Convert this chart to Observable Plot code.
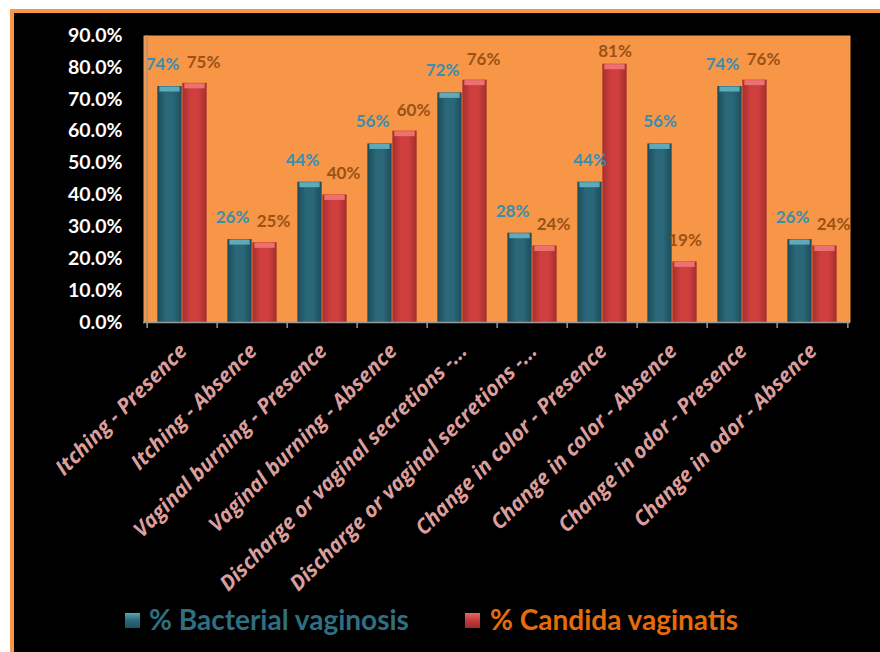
<!DOCTYPE html>
<html>
<head>
<meta charset="utf-8">
<script src="https://cdn.jsdelivr.net/npm/d3@7"></script>
<script src="https://cdn.jsdelivr.net/npm/@observablehq/plot@0.6"></script>
<style>
  html, body { margin: 0; padding: 0; background: #000000; width: 880px; height: 652px; overflow: hidden; }
  #whiteTop { position: absolute; left: 0; top: 0; width: 1000px; height: 9px; background: #ffffff; }
  #whiteLeft { position: absolute; left: 0; top: 0; width: 10px; height: 1000px; background: #ffffff; }
  #edgeTop { position: absolute; left: 10px; top: 9px; width: 990px; height: 4px; background: #F79646; }
  #edgeLeft { position: absolute; left: 10px; top: 9px; width: 4px; height: 990px; background: #F79646; }
  #chart { position: absolute; left: 0; top: 0; }
  #legend { position: absolute; top: 603px; left: 0; width: 880px; height: 32px; font-family: Lato, "Open Sans", sans-serif; font-weight: 700; font-size: 28px; }
  .sw { position: absolute; width: 15px; height: 15px; top: 10px; }
  .lt { position: absolute; top: 0; white-space: nowrap; line-height: 32px; }
</style>
</head>
<body>
<div id="whiteTop"></div>
<div id="whiteLeft"></div>
<div id="edgeTop"></div>
<div id="edgeLeft"></div>
<div id="chart"></div>
<div id="legend">
  <div class="sw" style="left:125px;background:linear-gradient(180deg,#5aa6b8 0%,#2b6c7d 45%,#1e5160 100%);"></div>
  <div class="lt" style="left:149px;color:#2f6f82;">% Bacterial vaginosis</div>
  <div class="sw" style="left:465px;background:linear-gradient(180deg,#e86a68 0%,#c83b3b 45%,#9c2b2b 100%);"></div>
  <div class="lt" style="left:490px;color:#E46C0A;">% Candida vaginatis</div>
</div>
<script>
const categories = [
  "Itching - Presence",
  "Itching - Absence",
  "Vaginal burning - Presence",
  "Vaginal burning - Absence",
  "Discharge or vaginal secretions - Presence",
  "Discharge or vaginal secretions - Absence",
  "Change in color - Presence",
  "Change in color - Absence",
  "Change in odor - Presence",
  "Change in odor - Absence"
];
const tickLabels = [
  "Itching - Presence",
  "Itching - Absence",
  "Vaginal burning - Presence",
  "Vaginal burning - Absence",
  "Discharge or vaginal secretions -...",
  "Discharge or vaginal secretions -...",
  "Change in color - Presence",
  "Change in color - Absence",
  "Change in odor - Presence",
  "Change in odor - Absence"
];
const bacterialVaginosis = [0.74, 0.26, 0.44, 0.56, 0.72, 0.28, 0.44, 0.56, 0.74, 0.26];
const candidaVaginatis   = [0.75, 0.25, 0.40, 0.60, 0.76, 0.24, 0.81, 0.19, 0.76, 0.24];
const yTicks = [0, 0.1, 0.2, 0.3, 0.4, 0.5, 0.6, 0.7, 0.8, 0.9];

const data = categories.map((c, i) => ({cat: c, bv: bacterialVaginosis[i], cv: candidaVaginatis[i]}));

const W = 880, H = 570, mL = 143, mR = 30, mT = 35, mB = 248;
const bw = (W - mL - mR) / categories.length;
const barW = 25;
const outer = (bw - 2 * barW) / 2;
const pct = d3.format(".0%");
const labelOf = new Map(categories.map((c, i) => [c, tickLabels[i]]));
const close = d => Math.abs(d.bv - d.cv) < 0.1;
const yMaxLabel = 0.785; // labels are kept inside the plot area, as in the original
const labelFont = {fontSize: 17, fontWeight: "bold"};

const chart = Plot.plot({
  width: W, height: H,
  marginLeft: mL, marginRight: mR, marginTop: mT, marginBottom: mB,
  style: {background: "transparent", fontFamily: "Lato, 'Open Sans', sans-serif", overflow: "visible"},
  x: {domain: categories, padding: 0},
  y: {domain: [0, 0.9]},
  marks: [
    Plot.frame({fill: "#F79646", stroke: "none"}),
    Plot.barY(data, {x: "cat", y: "bv", fill: "url(#gBV)", insetLeft: outer, insetRight: outer + barW}),
    Plot.barY(data, {x: "cat", y: "cv", fill: "url(#gCV)", insetLeft: outer + barW, insetRight: outer}),
    Plot.tickY(data, {x: "cat", y: "bv", stroke: "#5fa9bb", strokeWidth: 5, dy: 2.5, insetLeft: outer + 2, insetRight: outer + barW + 2}),
    Plot.tickY(data, {x: "cat", y: "cv", stroke: "#ec7271", strokeWidth: 5, dy: 2.5, insetLeft: outer + barW + 2, insetRight: outer + 2}),
    Plot.text(data, {filter: close, x: "cat", y: d => Math.min(d.bv, yMaxLabel), text: d => pct(d.bv), dx: -20, dy: -22, fill: "#3b8db0", ...labelFont}),
    Plot.text(data, {filter: d => !close(d), x: "cat", y: d => Math.min(d.bv, yMaxLabel), text: d => pct(d.bv), dx: -barW / 2, dy: -22, fill: "#3b8db0", ...labelFont}),
    Plot.text(data, {filter: close, x: "cat", y: d => Math.min(d.cv, yMaxLabel), text: d => pct(d.cv), dx: 21, dy: -21, fill: "#9a5216", ...labelFont}),
    Plot.text(data, {filter: d => !close(d), x: "cat", y: d => Math.min(d.cv, yMaxLabel), text: d => pct(d.cv), dx: barW / 2, dy: -21, fill: "#9a5216", ...labelFont}),
    Plot.ruleY([0], {stroke: "#9a9a9a", strokeWidth: 1.5}),
    Plot.ruleX([categories[0]], {x: d => d, dx: -bw / 2, stroke: "#9a9a9a", strokeWidth: 1.5}),
    Plot.ruleX(categories, {x: d => d, dx: -bw / 2, y1: 0, y2: 0, insetBottom: -6, stroke: "#9a9a9a", strokeWidth: 1.5}),
    Plot.ruleX([categories[categories.length - 1]], {x: d => d, dx: bw / 2, y1: 0, y2: 0, insetBottom: -6, stroke: "#9a9a9a", strokeWidth: 1.5}),
    Plot.axisY({ticks: yTicks, tickFormat: d3.format(".1%"), tickSize: 0, tickPadding: 21, fill: "#ffffff", fontSize: 19.5, fontWeight: "bold", label: null}),
    Plot.axisX({tickSize: 0, tickRotate: -45, tickPadding: 25, dx: 1, tickFormat: d => labelOf.get(d), fill: "#dc9e9c", fontFamily: "'Open Sans', Lato, sans-serif", fontSize: 21, fontWeight: "bold", fontStyle: "italic", label: null})
  ]
});

const defs = d3.select(chart).insert("defs", ":first-child");
function grad(id, stops) {
  const g = defs.append("linearGradient").attr("id", id).attr("x1", "0").attr("x2", "1").attr("y1", "0").attr("y2", "0");
  stops.forEach(([o, c]) => g.append("stop").attr("offset", o).attr("stop-color", c));
}
grad("gBV", [["0%", "#1b4b58"], ["35%", "#2a6879"], ["65%", "#2a6879"], ["100%", "#1c4d5a"]]);
grad("gCV", [["0%", "#a52f2f"], ["35%", "#cf3f3e"], ["65%", "#cf3f3e"], ["100%", "#a32e2e"]]);

document.getElementById("chart").appendChild(chart);
</script>
</body>
</html>
